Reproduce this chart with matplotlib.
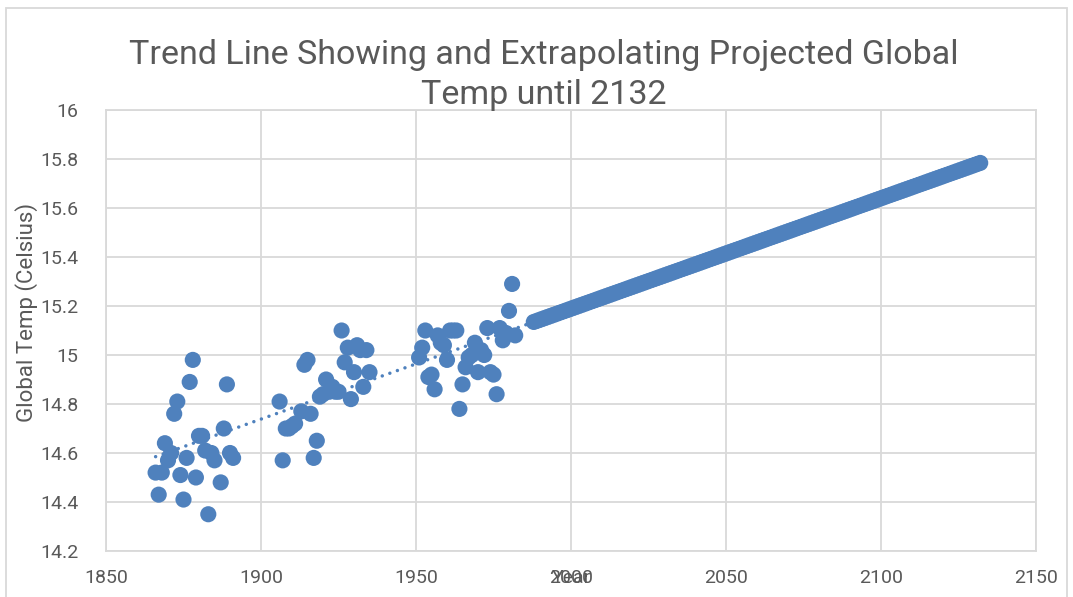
import numpy as np
import matplotlib
matplotlib.use("Agg")
import matplotlib.pyplot as plt
from matplotlib.patches import Rectangle
from matplotlib.ticker import FuncFormatter

plt.rcParams['font.family'] = ['Roboto', 'DejaVu Sans']

# observed global temperatures
years = [1866, 1867, 1868, 1869, 1870, 1871, 1872, 1873, 1874, 1875, 1876, 1877,
         1878, 1879, 1880, 1881, 1882, 1883, 1884, 1885, 1887, 1888, 1889, 1890, 1891,
         1906, 1907, 1908, 1909, 1910, 1911, 1913, 1914, 1915, 1916, 1917, 1918,
         1919, 1920, 1921, 1922, 1923, 1924, 1925, 1926, 1927, 1928, 1929, 1930,
         1931, 1932, 1933, 1934, 1935,
         1951, 1952, 1953, 1954, 1955, 1956, 1957, 1958, 1959, 1960, 1961, 1962,
         1963, 1964, 1965, 1966, 1967, 1968, 1969, 1970, 1971, 1972, 1973, 1974,
         1975, 1976, 1977, 1978, 1979, 1980, 1981, 1982]
temps = [14.52, 14.43, 14.52, 14.64, 14.57, 14.60, 14.76, 14.81, 14.51, 14.41, 14.58, 14.89,
         14.98, 14.50, 14.67, 14.67, 14.61, 14.35, 14.60, 14.57, 14.48, 14.70, 14.88, 14.60, 14.58,
         14.81, 14.57, 14.70, 14.70, 14.71, 14.72, 14.77, 14.96, 14.98, 14.76, 14.58, 14.65,
         14.83, 14.84, 14.90, 14.85, 14.87, 14.85, 14.85, 15.10, 14.97, 15.03, 14.82, 14.93,
         15.04, 15.02, 14.87, 15.02, 14.93,
         14.99, 15.03, 15.10, 14.91, 14.92, 14.86, 15.08, 15.05, 15.04, 14.98, 15.10, 15.10,
         15.10, 14.78, 14.88, 14.95, 14.99, 15.00, 15.05, 14.93, 15.02, 15.00, 15.11, 14.93,
         14.92, 14.84, 15.11, 15.06, 15.09, 15.18, 15.29, 15.08]

# linear trend used for the projection
trend_slope = 0.004507
trend_intercept = 6.175
proj_start, proj_end = 1988, 2132

proj_years = np.arange(proj_start, proj_end + 1)
proj_temps = trend_slope * proj_years + trend_intercept

blue = '#4F81BD'
gray_text = '#595959'
grid_col = '#D9D9D9'

fig = plt.figure(figsize=(10.73, 5.97), dpi=100)
ax = fig.add_axes([106 / 1073, 1 - 551 / 597, 930 / 1073, 441 / 597])

# dotted trendline across the whole range
tx = np.array([years[0], proj_end])
ax.plot(tx, trend_slope * tx + trend_intercept, color=blue, lw=2.5,
        linestyle=(0, (0.01, 2.3)), dash_capstyle='round', zorder=2)

ax.scatter(years, temps, s=135, color=blue, edgecolors='none', zorder=3)
ax.scatter(proj_years, proj_temps, s=135, color=blue, edgecolors='none', zorder=3)

ax.set_xlim(1850, 2150)
ax.set_ylim(14.2, 16)
ax.set_xticks(np.arange(1850, 2151, 50))
ax.set_yticks(np.round(np.arange(14.2, 16.01, 0.2), 1))
ax.yaxis.set_major_formatter(FuncFormatter(lambda v, p: f"{round(v, 1):g}"))
ax.grid(True, color=grid_col, lw=1.3)
ax.set_axisbelow(True)
for s in ax.spines.values():
    s.set_color(grid_col)
    s.set_linewidth(1.3)
ax.tick_params(length=0, labelsize=14, colors=gray_text)
ax.tick_params(axis='y', pad=20)
ax.tick_params(axis='x', pad=13)

ax.set_xlabel('Year', fontsize=14, color=gray_text)
ax.xaxis.set_label_coords(0.501, -0.062)
ax.xaxis.label.set_va('center')
ax.set_ylabel('Global Temp (Celsius)', fontsize=16, color=gray_text)
ax.yaxis.set_label_coords(-0.085, 0.54)
ax.yaxis.label.set_va('center')

fig.text(0.507, 1 - 75 / 597,
         'Trend Line Showing and Extrapolating Projected Global\nTemp until 2132',
         ha='center', va='center', fontsize=24.5, color=gray_text, linespacing=1.3)

# chart area border
fig.patches.append(Rectangle((6 / 1073, -0.05), 1061 / 1073, 1.05 - 8 / 597,
                             transform=fig.transFigure, fill=False,
                             edgecolor=grid_col, lw=1.3))

fig.savefig('out.png', dpi=100)
